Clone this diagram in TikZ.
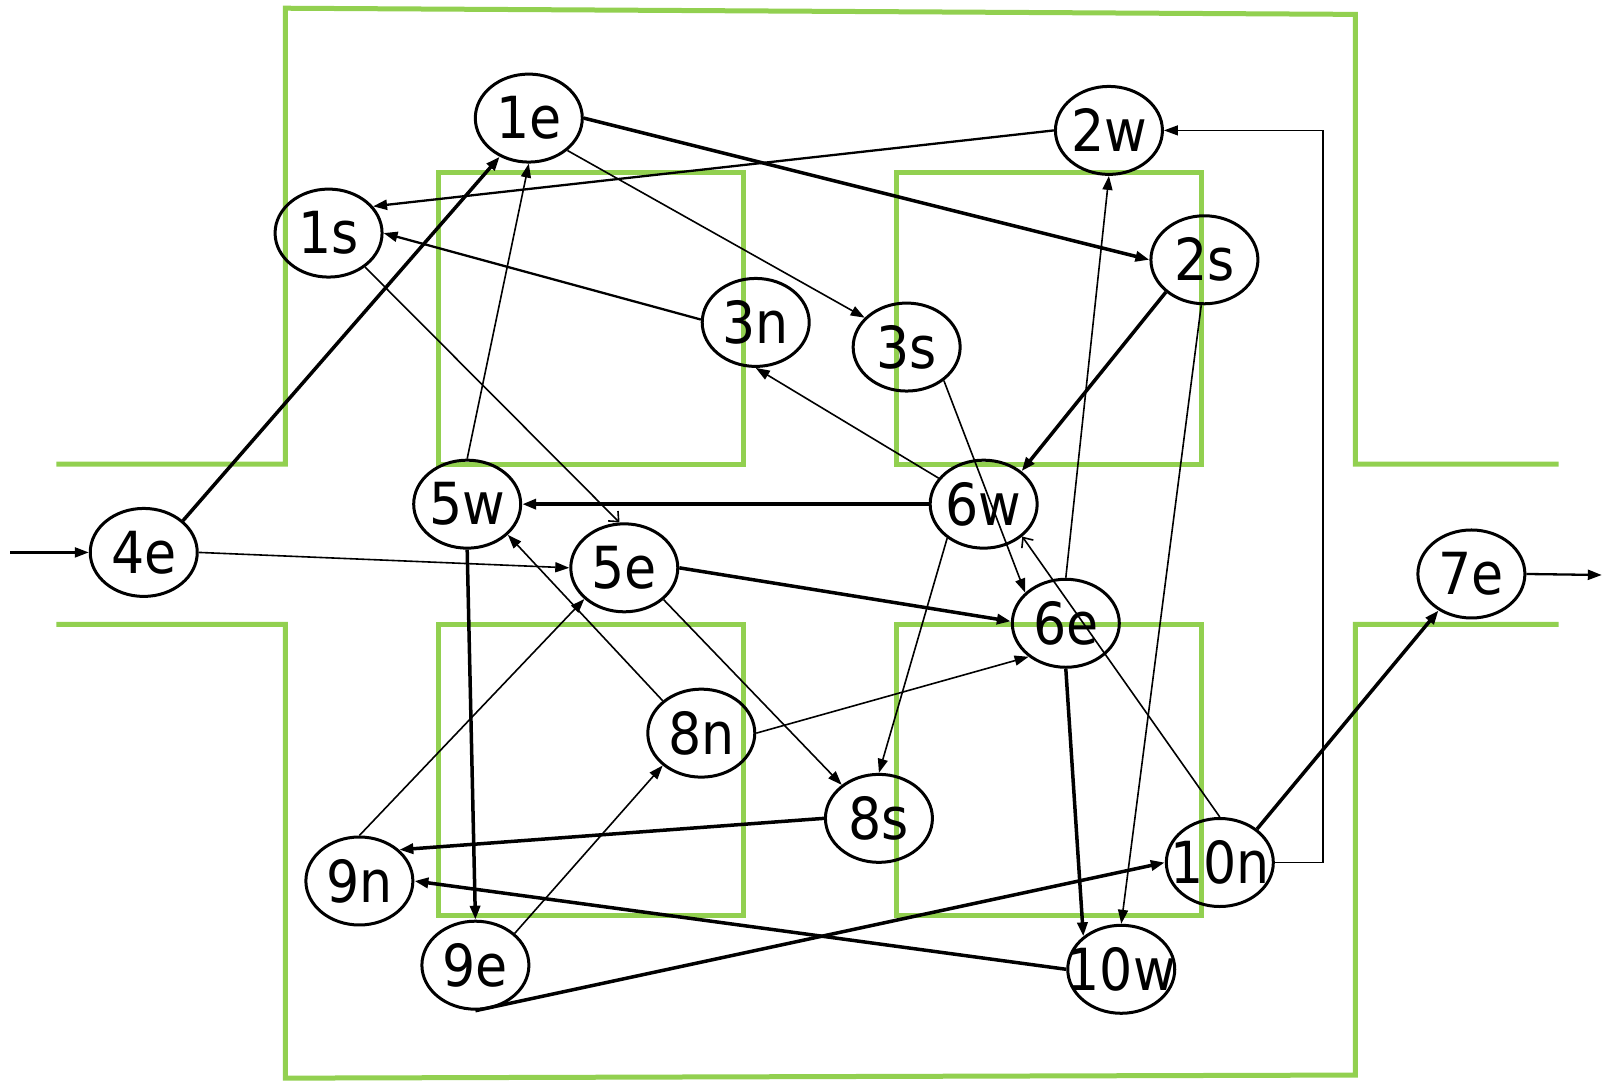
\documentclass[tikz,border=0pt]{standalone}
\usepackage{fontspec}
\setmainfont{DejaVu Sans Condensed}
\usetikzlibrary{arrows.meta,shapes.geometric}
\definecolor{grn}{HTML}{92D050}
\newcommand{\lbl}[1]{\makebox[0pt]{#1}}
\begin{document}
\begin{tikzpicture}[x=1.0268pt,y=-1.0268pt,
  st/.style={ellipse,draw,line width=3pt,minimum width=107pt,minimum height=88pt,inner sep=0pt,
    font=\fontsize{58}{58}\selectfont},
  grnline/.style={draw=grn,line width=5pt,line join=miter},
  tip/.style={-{Triangle[length=14pt,width=10pt]}},
  otip/.style={-{Straight Barb[length=8pt,width=14pt]}},
  thk/.style={line width=3.5pt},
  mid/.style={line width=2.3pt},
  thn/.style={line width=1.6pt}]
\useasboundingbox (0,0) rectangle (1568,1053);
% green walls
\draw[grnline] (55,452) -- (278,452) -- (278,8) -- (1320,14) -- (1320,452) -- (1518,452);
\draw[grnline] (55,608) -- (278,608) -- (278,1050) -- (1320,1047) -- (1320,608) -- (1518,608);
\draw[grnline] (427,168) rectangle (724,452);
\draw[grnline] (873,168) rectangle (1170,452);
\draw[grnline] (427,608) rectangle (724,892);
\draw[grnline] (873,608) rectangle (1170,892);
% nodes
\node[st] (1e) at (515,115) {\lbl{1e}};
\node[st] (2w) at (1080,127) {\lbl{2w}};
\node[st] (1s) at (320,227) {\lbl{1s}};
\node[st] (2s) at (1173,253) {\lbl{2s}};
\node[st] (3n) at (736,314) {\lbl{3n}};
\node[st] (3s) at (883,338) {\lbl{3s}};
\node[st] (5w) at (455,491) {\lbl{5w}};
\node[st] (6w) at (958,491) {\lbl{6w}};
\node[st] (4e) at (140,538) {\lbl{4e}};
\node[st] (5e) at (608,553) {\lbl{5e}};
\node[st] (6e) at (1038,607) {\lbl{6e}};
\node[st] (7e) at (1433,559) {\lbl{7e}};
\node[st] (8n) at (683,714) {\lbl{8n}};
\node[st] (8s) at (856,797) {\lbl{8s}};
\node[st] (9n) at (350,858) {\lbl{9n}};
\node[st] (10n) at (1188,840) {\lbl{10n}};
\node[st] (9e) at (463,940) {\lbl{9e}};
\node[st] (10w) at (1092,944) {\lbl{10w}};
\coordinate (in) at (10,538);
\coordinate (out) at (1560,560);
% edges
\draw[mid,tip] (in) -- (4e.west);
\draw[thk,tip] (4e.39) -- (1e.233);
\draw[thn,tip] (4e.east) -- (5e.west);
\draw[thk,tip] (1e.east) -- (2s.west);
\draw[thn,tip] (1e.320) -- (3s.145);
\draw[mid,tip] (2w.west) -- (1s.31);
\draw[mid,tip] (3n.177) -- (1s.east);
\draw[thn,otip] (1s.317) -- (5e.96);
\draw[thn,tip] (5w.north) -- (1e.south);
\draw[thn,tip] (6w.150) -- (3n.south);
\draw[thk,tip] (6w.west) -- (5w.east);
\draw[thk,tip] (2s.220) -- (6w.41);
\draw[thn,tip] (6e.north) -- (2w.south);
\draw[thn,tip] (2s.266) -- (10w.north);
\draw[thn,tip] (3s.318) -- (6e.143);
\draw[thk,tip] (5e.east) -- (6e.178);
\draw[thn,tip] (5e.321) -- (8s.138);
\draw[thn,tip] (6w.223) -- (8s.north);
\draw[thn,tip] (8n.140) -- (5w.323);
\draw[thn,tip] (8n.east) -- (6e.222);
\draw[thn,tip] (9n.north) -- (5e.218);
\draw[thn,tip] (9e.39) -- (8n.220);
\draw[thk,tip] (5w.south) -- (9e.north);
\draw[thk,tip] (8s.west) -- (9n.38);
\draw[thk,tip] (10w.west) -- (9n.east);
\draw[thk,tip] (9e.south) -- (10n.west);
\draw[thn,otip] (10n.north) -- (6w.320);
\draw[thk,tip] (6e.south) -- (10w.139);
\draw[thk,tip] (10n.42) -- (7e.228);
\draw[line width=1.3pt,tip] (10n.east) -- ++(47,0) |- (2w.east);
\draw[mid,tip] (7e.east) -- (out);
\end{tikzpicture}
\end{document}
